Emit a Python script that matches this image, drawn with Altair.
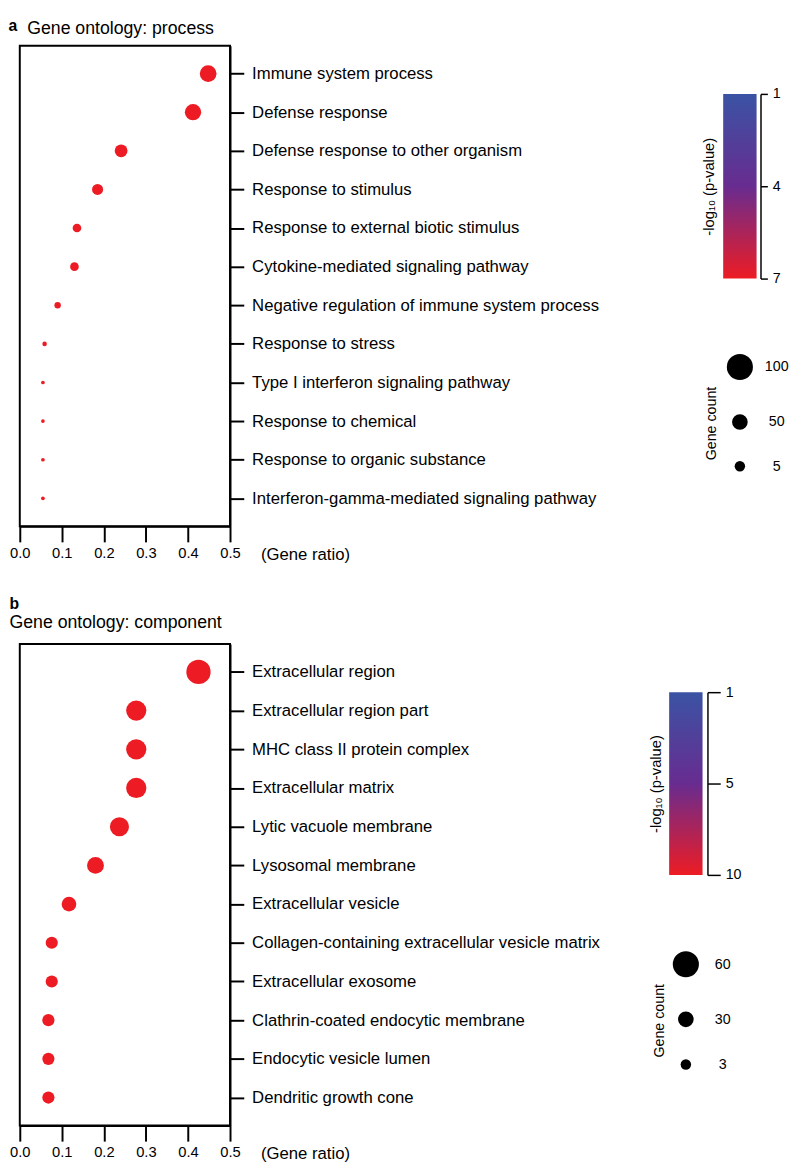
import altair as alt
import pandas as pd

# ---------------- data ----------------
terms_a = ["Immune system process", "Defense response", "Defense response to other organism",
           "Response to stimulus", "Response to external biotic stimulus",
           "Cytokine-mediated signaling pathway", "Negative regulation of immune system process",
           "Response to stress", "Type I interferon signaling pathway", "Response to chemical",
           "Response to organic substance", "Interferon-gamma-mediated signaling pathway"]
ratio_a = [0.448, 0.412, 0.241, 0.185, 0.136, 0.130, 0.090, 0.059, 0.055, 0.055, 0.055, 0.055]
count_a = [41, 39, 24, 18, 11, 11, 6, 3, 2, 2, 2, 2]
logp_a = [7, 7, 7, 7, 7, 7, 7, 7, 7, 7, 7, 7]

terms_b = ["Extracellular region", "Extracellular region part", "MHC class II protein complex",
           "Extracellular matrix", "Lytic vacuole membrane", "Lysosomal membrane",
           "Extracellular vesicle", "Collagen-containing extracellular vesicle matrix",
           "Extracellular exosome", "Clathrin-coated endocytic membrane",
           "Endocytic vesicle lumen", "Dendritic growth cone"]
ratio_b = [0.425, 0.277, 0.277, 0.277, 0.237, 0.180, 0.117, 0.076, 0.076, 0.068, 0.068, 0.068]
count_b = [52, 36, 36, 36, 32, 25, 19, 13, 13, 13, 13, 13]
logp_b = [10, 10, 10, 10, 10, 10, 10, 10, 10, 10, 10, 10]

x_ticks = [0.0, 0.1, 0.2, 0.3, 0.4, 0.5]
cbar_ticks_a = [1, 4, 7]
cbar_ticks_b = [1, 5, 10]
size_ticks_a = [5, 50, 100]
size_ticks_b = [3, 30, 60]

# ---------------- style ----------------
FONT = "Liberation Sans"
BLUE, PURPLE, RED = "#3a53a4", "#682c90", "#ed1c24"
GRAD = {"gradient": "linear", "x1": 0, "y1": 0, "x2": 0, "y2": 1,
        "stops": [{"offset": 0, "color": BLUE}, {"offset": 0.5, "color": PURPLE},
                  {"offset": 1, "color": RED}]}
PW, PH = 214, 489
LEG_AREAS = [113, 254, 707]


def main_chart(terms, ratio, count, logp, size_max, cticks, title, height):
    df = pd.DataFrame({"term": terms, "ratio": ratio, "count": count, "logp": logp})
    return alt.Chart(df).mark_circle(opacity=1).encode(
        x=alt.X("ratio:Q", scale=alt.Scale(domain=[0, 0.5], nice=False, zero=True),
                axis=alt.Axis(values=x_ticks, format=".1f", title="(Gene ratio)",
                              titleX=PW + 31, titleY=29, titleAlign="left",
                              titleBaseline="middle", titleFontSize=17,
                              titleFontWeight="normal", tickSize=16, tickWidth=2,
                              domainWidth=2, labelFontSize=15, labelPadding=4, grid=False,
                              labelFlush=False)),
        y=alt.Y("term:N", sort=None, scale=alt.Scale(padding=0.72),
                axis=alt.Axis(orient="right", title=None, tickSize=14, tickWidth=2,
                              domainWidth=2, labelFontSize=17, labelPadding=8,
                              labelLimit=700, grid=False)),
        size=alt.Size("count:Q", scale=alt.Scale(domain=[0, size_max], range=[0, 707]),
                      legend=None),
        color=alt.Color("logp:Q", scale=alt.Scale(domain=cticks, range=[BLUE, PURPLE, RED]),
                        legend=None),
    ).properties(
        width=PW, height=height,
        view=alt.ViewBackground(stroke="black", strokeWidth=2),
        title=title,
    )


def legend_layer(cticks, crange, ctick_size, coffset, ctitle_xy,
                 sticks, srange, stitle_xy, height):
    xband = alt.X("k:N", axis=None, scale=alt.Scale(paddingInner=0, paddingOuter=0))
    cdf = pd.DataFrame({"k": [""], "lo": [cticks[0]], "hi": [cticks[-1]]})
    cbar = alt.Chart(cdf).mark_rect(color=GRAD).encode(
        x=xband,
        y=alt.Y("lo:Q", scale=alt.Scale(domain=cticks, range=crange, nice=False, zero=False),
                axis=alt.Axis(orient="right", values=cticks, offset=coffset,
                              tickSize=ctick_size, tickWidth=1.5, domainWidth=1.5,
                              labelFontSize=14.5, labelPadding=5, grid=False,
                              labelBaseline="middle",
                              title="-log\u2081\u2080 (p-value)", titleX=ctitle_xy[0],
                              titleY=ctitle_xy[1], titleAngle=270, titleAlign="center",
                              titleBaseline="middle", titleFontSize=15,
                              titleFontWeight="normal")),
        y2="hi:Q",
    )
    sdf = pd.DataFrame({"k": [""] * len(sticks), "n": sticks})
    sleg = alt.Chart(sdf).mark_circle(color="black", opacity=1).encode(
        x=xband,
        y=alt.Y("n:Q", scale=alt.Scale(domain=sticks, range=srange, nice=False, zero=False),
                axis=alt.Axis(orient="right", values=sticks, domain=False, ticks=False,
                              labelFontSize=14.5, labelPadding=20, labelAlign="center",
                              labelBaseline="middle", grid=False,
                              title="Gene count", titleX=stitle_xy[0], titleY=stitle_xy[1],
                              titleAngle=270, titleAlign="center", titleBaseline="middle",
                              titleFontSize=14.5, titleFontWeight="normal")),
        size=alt.Size("n:Q", scale=alt.Scale(domain=sticks, range=LEG_AREAS), legend=None),
    )
    return alt.layer(cbar, sleg).resolve_scale(y="independent").properties(
        width=34, height=height)


title_a = alt.TitleParams(text="Gene ontology: process", anchor="start", frame="bounds",
                          fontSize=18, fontWeight="normal", dx=18, offset=8)
title_b = alt.TitleParams(text="b", subtitle="Gene ontology: component", anchor="start",
                          frame="bounds", fontSize=16, fontWeight="bold", subtitleFontSize=18,
                          subtitlePadding=3, offset=12)

main_a = main_chart(terms_a, ratio_a, count_a, logp_a, 100, cbar_ticks_a, title_a, PH)
leg_a = legend_layer(cbar_ticks_a, [49, 143, 237], 7, 4, (-53, 143),
                     size_ticks_a, [428, 383, 327], (-46, 384), 460)

main_b = main_chart(terms_b, ratio_b, count_b, logp_b, 60, [1, 5.5, 10], title_b, 490)
leg_b = legend_layer(cbar_ticks_b, [49, 142, 235], 13, 5, (-53, 142),
                     size_ticks_b, [428, 382, 326], (-44, 383), 460)

RES = dict(x="independent", y="independent", size="independent", color="independent")
row_a = alt.hconcat(main_a, leg_a, spacing=103).resolve_scale(**RES).properties(
    title=alt.TitleParams(text="a", anchor="start", frame="bounds", fontSize=16,
                          fontWeight="bold", offset=-15))
row_b = alt.hconcat(main_b, leg_b, spacing=48).resolve_scale(**RES)

chart = alt.vconcat(row_a, row_b, spacing=32).resolve_scale(**RES).properties(
    padding=0
).configure_view(
    strokeWidth=0
).configure_axis(
    labelFont=FONT, titleFont=FONT, labelColor="black", titleColor="black",
    domainColor="black", tickColor="black"
).configure_title(
    font=FONT, subtitleFont=FONT, color="black", subtitleColor="black"
)

chart.save("out.html", embed_options={"renderer": "svg", "actions": False})
